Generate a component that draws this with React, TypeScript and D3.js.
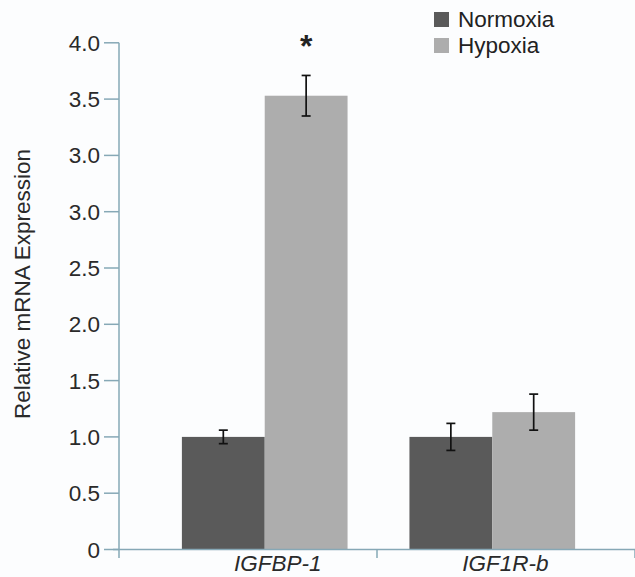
import * as d3 from 'd3';

// chart values (y in axis units, one step = 0.5)
const genes = ['IGFBP-1', 'IGF1R-b'];
const conditions = ['Normoxia', 'Hypoxia'];
const normoxia = [1.0, 1.0];
const hypoxia = [4.03, 1.22];
const normoxiaErr = [0.06, 0.12];
const hypoxiaErr = [0.18, 0.16];
// tick labels as printed (the figure repeats 3.0)
const yTickLabels = ['0', '0.5', '1.0', '1.5', '2.0', '2.5', '3.0', '3.0', '3.5', '4.0'];
const significant = [true, false];

const W = 635;
const H = 577;
const FONT = '"Liberation Sans", Arial, sans-serif';
const AXIS = '#86a8b6';
const colors = ['#5a5a5a', '#adadad'];

export default function App() {
  const y0 = 549.5;
  const yStep = 56.3;
  const yScale = d3.scaleLinear()
    .domain([0, 0.5])
    .range([y0, y0 - yStep]);
  const yTicks = yTickLabels.map((_, i) => i * 0.5);

  // outer bands give the category separators on the x axis
  const xOuter = d3.scaleBand<string>().domain(genes).range([119, 635]);
  // bars sit on their own grid
  const xBars = d3.scaleBand<string>().domain(genes).range([120, 637]).padding(0.272);
  const xSub = d3.scaleBand<string>().domain(conditions).range([0, xBars.bandwidth()]);

  const series = [
    { name: 'Normoxia', values: normoxia, errs: normoxiaErr },
    { name: 'Hypoxia', values: hypoxia, errs: hypoxiaErr },
  ];

  const capHalf = 4.5;

  return (
    <svg width={W} height={H} style={{ position: 'absolute', left: 0, top: 0, background: '#fcfdfe' }} fontFamily={FONT}>
      {/* bars */}
      {series.map((s, si) => (
        <g key={s.name}>
          {genes.map((g, gi) => {
            const x = xBars(g)! + xSub(s.name)!;
            const yTop = yScale(s.values[gi]);
            return (
              <rect key={g} x={x} y={yTop} width={xSub.bandwidth()} height={y0 - yTop} fill={colors[si]} />
            );
          })}
        </g>
      ))}

      {/* error bars */}
      {series.map((s) => (
        <g key={s.name + '-err'} stroke="#111" strokeWidth={1.7}>
          {genes.map((g, gi) => {
            const cx = xBars(g)! + xSub(s.name)! + xSub.bandwidth() / 2;
            const hi = yScale(s.values[gi] + s.errs[gi]);
            const lo = yScale(s.values[gi] - s.errs[gi]);
            return (
              <g key={g}>
                <line x1={cx} x2={cx} y1={hi} y2={lo} />
                <line x1={cx - capHalf} x2={cx + capHalf} y1={hi} y2={hi} />
                <line x1={cx - capHalf} x2={cx + capHalf} y1={lo} y2={lo} />
              </g>
            );
          })}
        </g>
      ))}

      {/* significance marks */}
      {genes.map((g, gi) => significant[gi] && (
        <text key={g} x={xBars(g)! + xSub('Hypoxia')! + xSub.bandwidth() / 2} y={57}
          textAnchor="middle" fontSize={32} fontWeight="bold" fill="#222">*</text>
      ))}

      {/* y axis */}
      <line x1={119} x2={119} y1={yScale(4.5)} y2={558} stroke={AXIS} strokeWidth={1.5} />
      {yTicks.map((t, i) => (
        <g key={i}>
          <line x1={104} x2={119} y1={yScale(t)} y2={yScale(t)} stroke={AXIS} strokeWidth={1.5} />
          <text x={100} y={yScale(t) + 8} textAnchor="end" fontSize={22.5} fill="#2a2a2a">{yTickLabels[i]}</text>
        </g>
      ))}

      {/* x axis */}
      <line x1={113} x2={635} y1={y0} y2={y0} stroke={AXIS} strokeWidth={1.5} />
      {genes.map((g) => (
        <line key={g} x1={xOuter(g)! + xOuter.bandwidth()} x2={xOuter(g)! + xOuter.bandwidth()}
          y1={y0} y2={558} stroke={AXIS} strokeWidth={1.5} />
      ))}
      {genes.map((g) => (
        <text key={g} x={xBars(g)! + xBars.bandwidth() / 2 + 13} y={571} textAnchor="middle"
          fontSize={22.5} fontStyle="italic" fill="#2a2a2a">{g}</text>
      ))}

      {/* y label */}
      <text transform="translate(30,284) rotate(-90)" textAnchor="middle" fontSize={22.5} fill="#2a2a2a">
        Relative mRNA Expression
      </text>

      {/* legend */}
      {series.map((s, si) => (
        <g key={s.name + '-leg'} transform={`translate(434,${12 + si * 26})`}>
          <rect width={15} height={15} fill={colors[si]} />
          <text x={24} y={15} fontSize={22.5} fill="#222">{s.name}</text>
        </g>
      ))}
    </svg>
  );
}
